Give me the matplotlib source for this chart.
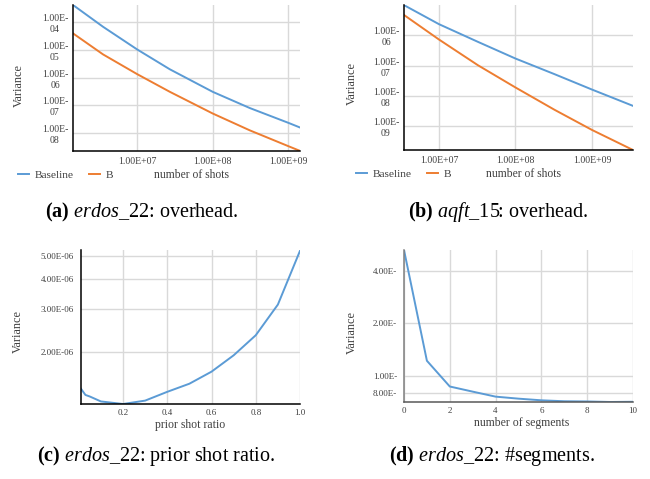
import matplotlib
matplotlib.use('Agg')
import matplotlib.pyplot as plt

plt.rcParams['font.family'] = 'Liberation Serif'
plt.rcParams['mathtext.fontset'] = 'custom'
plt.rcParams['mathtext.rm'] = 'Liberation Serif'
plt.rcParams['mathtext.it'] = 'Liberation Serif:italic'
plt.rcParams['mathtext.bf'] = 'Liberation Serif:bold'

BLUE = '#5B9BD5'
ORANGE = '#ED7D31'
GRID = '#D9D9D9'
TXT = '#404040'

# %% data
# (a) erdos_22 overhead
shots_a = [1.42e6, 3.55e6, 1.0e7, 2.71e7, 1.0e8, 3.10e8, 1.0e9, 1.43e9]
base_a = [4.25e-4, 6.9e-5, 1.05e-5, 2.0e-6, 3.06e-7, 7.9e-8, 2.31e-8, 1.56e-8]
b_a = [3.99e-5, 6.9e-6, 1.34e-6, 3.06e-7, 5.02e-8, 1.23e-8, 3.3e-9, 2.22e-9]

# (b) aqft_15 overhead
shots_b = [3.5e6, 1.0e7, 3.24e7, 1.0e8, 3.24e8, 1.0e9, 3.44e9]
base_b = [9.7e-6, 2.3e-6, 6.0e-7, 1.7e-7, 5.2e-8, 1.62e-8, 4.7e-9]
b_b = [4.6e-6, 7.2e-7, 1.02e-7, 1.9e-8, 3.5e-9, 7.6e-10, 1.66e-10]

shot_ticks = [1e7, 1e8, 1e9]
var_ticks_a = [1e-4, 1e-5, 1e-6, 1e-7, 1e-8]
var_ticks_b = [1e-6, 1e-7, 1e-8, 1e-9]

# (c) prior shot ratio
ratio = [0.01, 0.03, 0.05, 0.1, 0.2, 0.3, 0.4, 0.5, 0.6, 0.7, 0.8, 0.9, 1.0]
var_ratio = [1.40e-6, 1.32e-6, 1.30e-6, 1.24e-6, 1.21e-6, 1.25e-6, 1.36e-6,
             1.47e-6, 1.65e-6, 1.93e-6, 2.34e-6, 3.14e-6, 5.26e-6]
ratio_ticks = [0.2, 0.4, 0.6, 0.8, 1.0]
var_ticks_c = [2e-6, 3e-6, 4e-6, 5e-6]

# (d) number of segments (exponent is cut off in the original labels)
segments = [0, 1, 2, 3, 4, 5, 6, 7, 8, 9, 10]
var_seg = [5.3, 1.22, 0.867, 0.81, 0.758, 0.738, 0.722, 0.713, 0.711, 0.706, 0.708]
seg_ticks = [0, 2, 4, 6, 8, 10]
var_ticks_d = [0.8, 1.0, 2.0, 4.0]
var_labels_d = ['8.00E-', '1.00E-', '2.00E-', '4.00E-']

captions = [r'$\mathbf{(a)}$ $erdos$_22: overhead.',
            r'$\mathbf{(b)}$ $aqft$_15: overhead.',
            r'$\mathbf{(c)}$ $erdos$_22: prior shot ratio.',
            r'$\mathbf{(d)}$ $erdos$_22: #segments.']


def sci(v, split=False):
    s = '%.2E' % v
    if split:
        s = s.replace('E-', 'E-\n')
    return s


def style(ax, left_col='black', bottom_col='black'):
    for s in ['top', 'right']:
        ax.spines[s].set_visible(False)
    ax.spines['left'].set_color(left_col)
    ax.spines['bottom'].set_color(bottom_col)
    ax.spines['left'].set_linewidth(1.1)
    ax.spines['bottom'].set_linewidth(1.1)
    ax.grid(True, which='major', color=GRID, linewidth=1.0)
    ax.set_axisbelow(True)
    ax.tick_params(length=0, labelsize=7, colors=TXT)


fig = plt.figure(figsize=(6.5, 4.79), dpi=100)
ax_a = fig.add_axes([73/650, 1-151/479, 227/650, 146/479])
ax_b = fig.add_axes([404/650, 1-150/479, 229/650, 145/479])
ax_c = fig.add_axes([81/650, 1-404/479, 219/650, 154/479])
ax_d = fig.add_axes([404/650, 1-402/479, 229/650, 152/479])

# %% (a) and (b)
for ax, x, yb, yo, yt, xl, yl, leg_x, lab_x, vx, vy in [
        (ax_a, shots_a, base_a, b_a, var_ticks_a, (1.42e6, 1.43e9), (2.2e-9, 4.25e-4),
         -0.242, 0.52, -0.238, 0.452),
        (ax_b, shots_b, base_b, b_b, var_ticks_b, (3.5e6, 3.44e9), (1.66e-10, 9.8e-6),
         -0.21, 0.52, -0.227, 0.462)]:
    ax.plot(x, yb, color=BLUE, lw=1.4, label='Baseline')
    ax.plot(x, yo, color=ORANGE, lw=1.4, label='B')
    ax.set_xscale('log')
    ax.set_yscale('log')
    ax.set_xlim(xl)
    ax.set_ylim(yl)
    ax.set_xticks(shot_ticks)
    ax.set_xticklabels([sci(v) for v in shot_ticks])
    ax.set_yticks(yt)
    ax.set_yticklabels([sci(v, True) for v in yt])
    ax.minorticks_off()
    style(ax)
    ax.tick_params(axis='y', pad=3.5)
    ax.tick_params(axis='x', pad=4.5)
    for t in ax.get_yticklabels():
        t.set_multialignment('center')
        t.set_linespacing(1.3)
    ax.text(vx, vy, 'Variance', rotation=90, ha='center', va='center',
            fontsize=8.8, color=TXT, transform=ax.transAxes)
    ax.text(lab_x, -0.165, 'number of shots', ha='center', va='center',
            fontsize=8.4, color=TXT, transform=ax.transAxes)
    ax.legend(loc='center left', bbox_to_anchor=(leg_x, -0.165), ncol=2,
              frameon=False, fontsize=8.2, handlelength=1.0, handletextpad=0.5,
              columnspacing=1.3, borderpad=0, borderaxespad=0, labelcolor=TXT)

# %% (c) prior shot ratio
ax_c.plot(ratio, var_ratio, color=BLUE, lw=1.4)
ax_c.set_yscale('log')
ax_c.set_xlim(0.01, 1.0)
ax_c.set_ylim(1.21e-6, 5.3e-6)
ax_c.set_xticks(ratio_ticks)
ax_c.set_xticklabels(['%.1f' % v for v in ratio_ticks])
ax_c.set_yticks(var_ticks_c)
ax_c.set_yticklabels([sci(v) for v in var_ticks_c])
ax_c.minorticks_off()
style(ax_c)
ax_c.tick_params(axis='y', pad=5, labelsize=6.5)
ax_c.tick_params(axis='x', pad=3.5, labelsize=6.5)
ax_c.text(-0.288, 0.468, 'Variance', rotation=90, ha='center', va='center',
          fontsize=8.8, color=TXT, transform=ax_c.transAxes)
ax_c.text(0.5, -0.135, 'prior shot ratio', ha='center', va='center',
          fontsize=8.5, color=TXT, transform=ax_c.transAxes)

# %% (d) number of segments
ax_d.plot(segments, var_seg, color=BLUE, lw=1.4)
ax_d.set_yscale('log')
ax_d.set_xlim(0, 10)
ax_d.set_ylim(0.706, 5.3)
ax_d.set_xticks(seg_ticks)
ax_d.set_xticklabels([str(v) for v in seg_ticks])
ax_d.set_yticks(var_ticks_d)
ax_d.set_yticklabels(var_labels_d)
ax_d.minorticks_off()
style(ax_d, left_col='#7F7F7F', bottom_col='#595959')
ax_d.tick_params(axis='y', pad=5, labelsize=6.5)
ax_d.tick_params(axis='x', pad=3.5, labelsize=6.5)
ax_d.text(-0.227, 0.46, 'Variance', rotation=90, ha='center', va='center',
          fontsize=8.8, color=TXT, transform=ax_d.transAxes)
ax_d.text(0.515, -0.135, 'number of segments', ha='center', va='center',
          fontsize=8.5, color=TXT, transform=ax_d.transAxes)

# %% captions
for (cx, cy), cap in zip([(142, 212), (498, 212), (156, 456), (492, 456)], captions):
    fig.text(cx/650, 1-cy/479, cap, ha='center', va='center', fontsize=14.5)

fig.savefig('out.png', dpi=100)
